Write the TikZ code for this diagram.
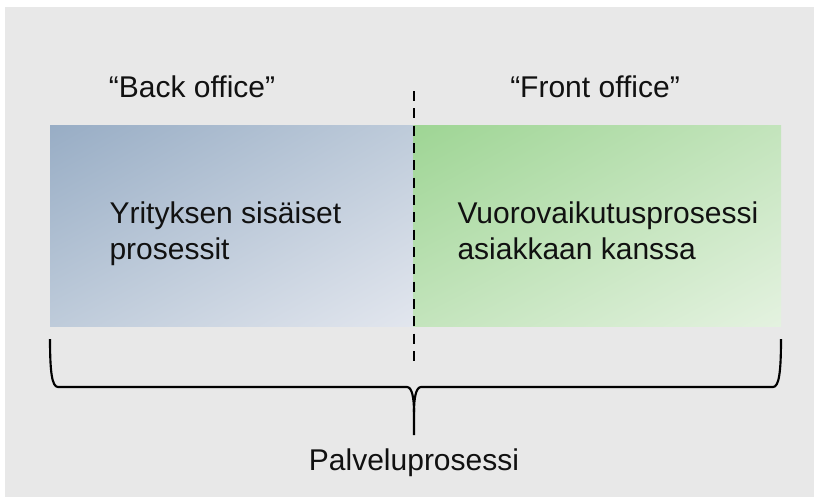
\documentclass[tikz,border=0pt]{standalone}
\usepackage{fontspec}
\setmainfont{Liberation Sans}
\usetikzlibrary{shadings}
\definecolor{backTL}{RGB}{152,173,197}
\definecolor{backBR}{RGB}{226,230,238}
\definecolor{backMid}{RGB}{190,203,218}
\definecolor{frontTL}{RGB}{158,213,148}
\definecolor{frontBR}{RGB}{228,242,224}
\definecolor{frontMid}{RGB}{195,228,188}
\tikzset{every picture/.style={line width=0.75pt}}

\begin{document}
\begin{tikzpicture}[x=0.75pt,y=0.75pt,yscale=-1,xscale=1,
  lbl/.style={inner sep=0pt,font=\fontsize{22.5}{27.5}\selectfont,color={rgb, 255:red, 17; green, 17; blue, 17 }}]
\useasboundingbox (0,0) rectangle (814,497);

%Shape: Rectangle [background]
\fill [color=white] (0,0) rectangle (814,497);
\fill [color={rgb, 255:red, 232; green, 232; blue, 232 }] (5,7) rectangle (814,497);
%Shape: Rectangle [back office]
\shade [upper left=backTL,lower right=backBR,upper right=backMid,lower left=backMid] (50,125) rectangle (413,326);
%Shape: Rectangle [front office]
\shade [upper left=frontTL,lower right=frontBR,upper right=frontMid,lower left=frontMid] (413,125) rectangle (781,326);

%Straight Lines [divider]
\draw [line width=1.5pt, dash pattern={on 7.5pt off 5.5pt}] (413.5,91) -- (413.5,363) ;
%Curve Lines [brace]
\draw [line width=1.6pt, line join=round] (50,339) .. controls (50,372) and (52,387) .. (58,387) -- (407,387) .. controls (412,387) and (414,398) .. (414,412) -- (414,435) ;
\draw [line width=1.6pt, line join=round] (781,339) .. controls (781,372) and (779,387) .. (773,387) -- (421,387) .. controls (416,387) and (414,398) .. (414,412) ;

% Text Node
\node (back) [lbl, anchor=base] at (192,97) {“Back office”};
% Text Node
\node (front) [lbl, anchor=base] at (595,97) {“Front office”};
% Text Node
\node (inner1) [lbl, anchor=base west] at (109,223) {Yrityksen sisäiset};
\node (inner2) [lbl, anchor=base west] at (109,259) {prosessit};
% Text Node
\node (inter1) [lbl, anchor=base west] at (457,223) {Vuorovaikutusprosessi};
\node (inter2) [lbl, anchor=base west] at (457,259) {asiakkaan kanssa};
% Text Node
\node (total) [lbl, anchor=base] at (414,470) {Palveluprosessi};

\end{tikzpicture}
\end{document}
